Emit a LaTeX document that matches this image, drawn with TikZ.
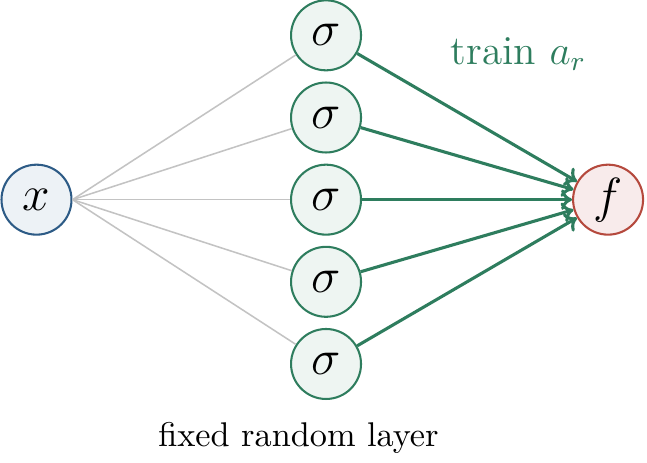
\documentclass[tikz,border=0pt]{standalone}
\usetikzlibrary{arrows.meta}
\definecolor{xfill}{HTML}{EDF2F6}
\definecolor{xdraw}{HTML}{2D5B86}
\definecolor{sfill}{HTML}{EEF5F2}
\definecolor{sdraw}{HTML}{2E7D5E}
\definecolor{ffill}{HTML}{F8EBEB}
\definecolor{fdraw}{HTML}{B5493D}
\definecolor{graylink}{HTML}{C3C3C3}
\tikzset{
  neuron/.style={circle, line width=0.6pt, minimum size=20.4pt, inner sep=0pt, font=\Large},
  inbox/.style={neuron, draw=xdraw, fill=xfill},
  hidbox/.style={neuron, draw=sdraw, fill=sfill},
  outbox/.style={neuron, draw=fdraw, fill=ffill},
  fixedlink/.style={draw=graylink, line width=0.45pt},
  trainlink/.style={draw=sdraw, line width=0.9pt, -{To[length=3.2pt,width=6pt]}},
}
\begin{document}
\begin{tikzpicture}[x=1pt,y=1pt]
\useasboundingbox (0,0) rectangle (188.6,134.7);
\node[inbox] (x) at (10.64,76.5) {$x$};
\node[hidbox] (s1) at (95.04,124.4) {$\sigma$};
\node[hidbox] (s2) at (95.04,100.45) {$\sigma$};
\node[hidbox] (s3) at (95.04,76.5) {$\sigma$};
\node[hidbox] (s4) at (95.04,52.55) {$\sigma$};
\node[hidbox] (s5) at (95.04,28.6) {$\sigma$};
\node[outbox] (f) at (177.26,76.5) {$f$};
\foreach \i in {1,...,5}{
  \draw[fixedlink] (x.east) -- (s\i);
  \draw[trainlink] (s\i) -- (f);
}
\node[anchor=base, text=sdraw, font=\large] (tr) at (151.2,116.0) {train $a_r$};
\node[anchor=base] (fx) at (87.0,4.4) {fixed random layer};
\end{tikzpicture}
\end{document}
